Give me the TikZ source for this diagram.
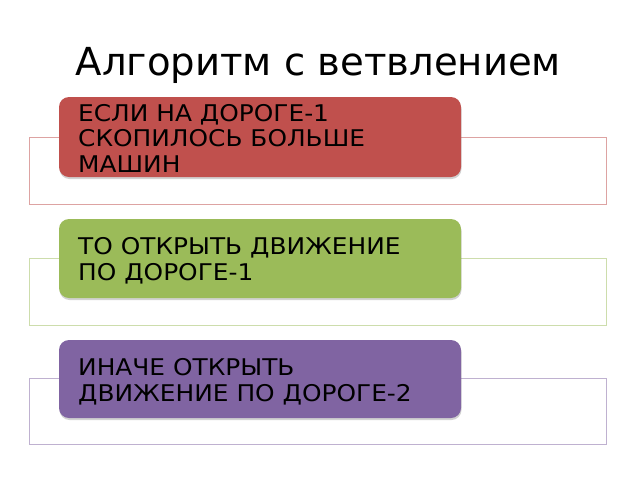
\documentclass[tikz,border=0pt]{standalone}
\usepackage{fontspec}
\setmainfont{DejaVu Sans}
\newfontfamily\boxfont[FakeStretch=1.08]{DejaVu Sans}
\usetikzlibrary{shadows}
\definecolor{cred}{HTML}{C0504D}
\definecolor{cgreen}{HTML}{9BBB59}
\definecolor{cpurple}{HTML}{8064A2}
\definecolor{lred}{HTML}{DDA3A2}
\definecolor{lgreen}{HTML}{CDDDAC}
\definecolor{lpurple}{HTML}{BFB1D0}
\begin{document}
\begin{tikzpicture}[x=1pt,y=-1pt,
  backrect/.style={draw=#1, line width=0.8pt, fill=white},
  cbox/.style={fill=#1, rounded corners=10pt, draw=none, drop shadow={shadow xshift=0.5pt, shadow yshift=-2pt, opacity=0.35}},
  ctext/.style={anchor=base west, inner sep=0pt, align=left, font=\boxfont\fontsize{23}{25.5}\selectfont, text=black}]
\useasboundingbox (0,0) rectangle (640,480);
\node[anchor=base, inner sep=0pt, font=\fontsize{38.6}{42}\selectfont] (title) at (318.5,75) {Алгоритм с ветвлением};
% row 1
\draw[backrect=lred] (29,137) rectangle (606,204);
\path[cbox=cred] (59,97) rectangle (461,177);
\node[ctext] (t1) at (78,172.3) {ЕСЛИ НА ДОРОГЕ-1\\СКОПИЛОСЬ БОЛЬШЕ\\МАШИН};
% row 2
\draw[backrect=lgreen] (29,258) rectangle (606,325);
\path[cbox=cgreen] (59,219) rectangle (461,298);
\node[ctext] (t2) at (78,280) {ТО ОТКРЫТЬ ДВИЖЕНИЕ\\ПО ДОРОГЕ-1};
% row 3
\draw[backrect=lpurple] (29,378) rectangle (606,444);
\path[cbox=cpurple] (59,340) rectangle (461,418);
\node[ctext] (t3) at (78,401) {ИНАЧЕ ОТКРЫТЬ\\ДВИЖЕНИЕ ПО ДОРОГЕ-2};
\end{tikzpicture}
\end{document}
